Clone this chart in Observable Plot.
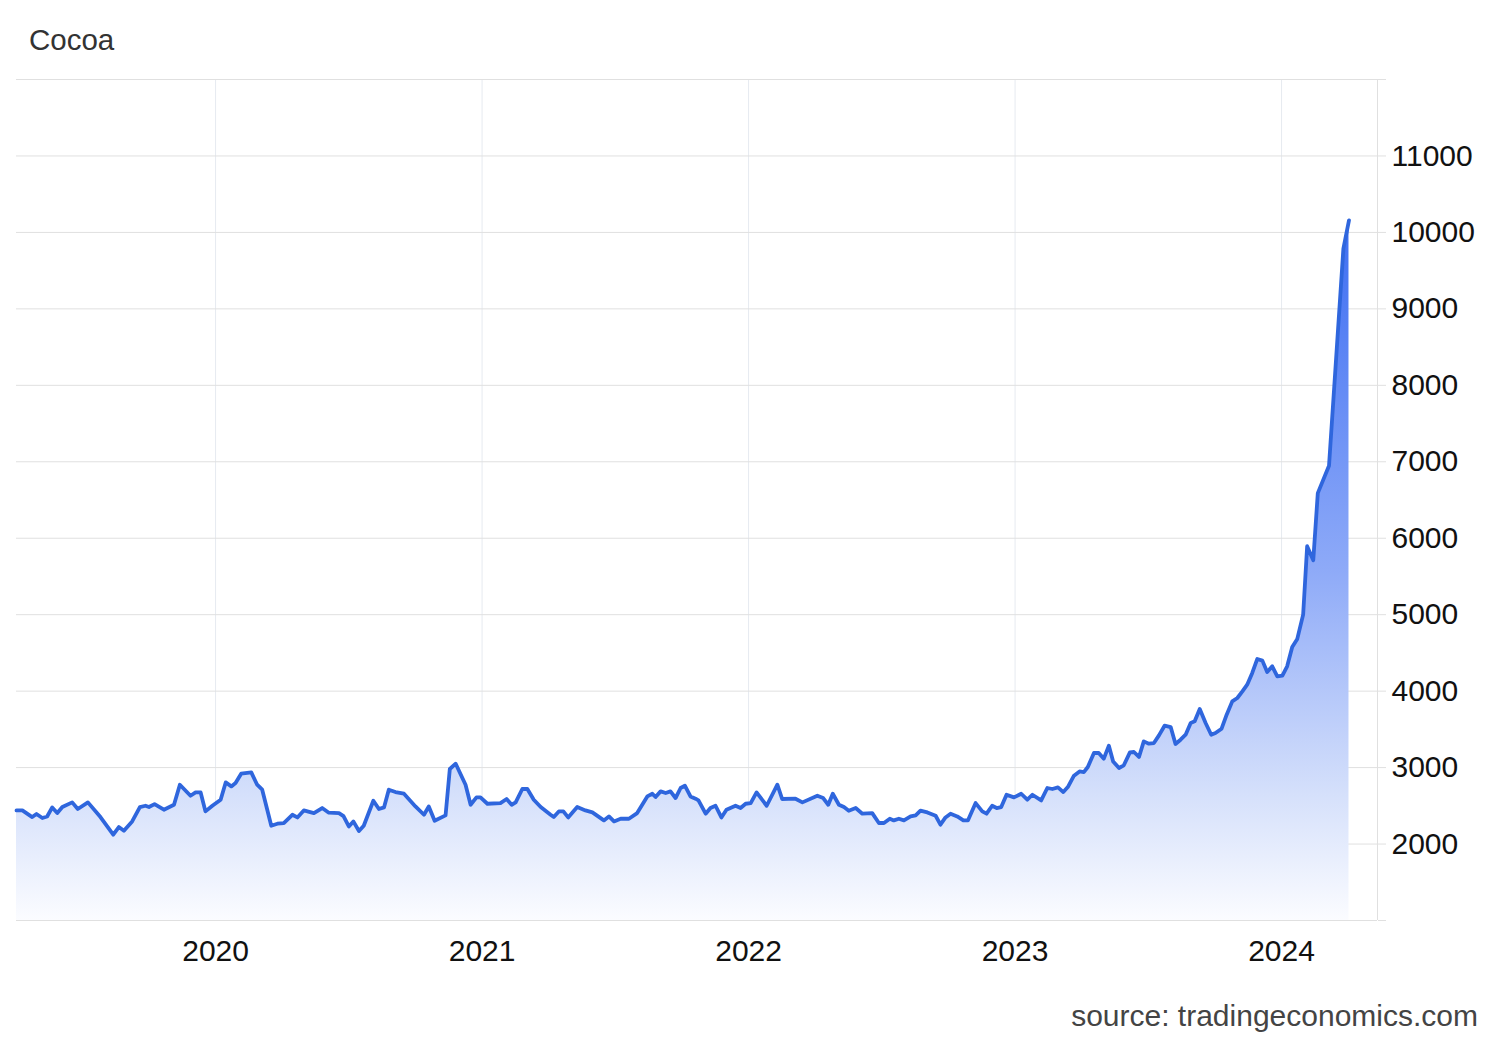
<!DOCTYPE html>
<html>
<head>
<meta charset="utf-8">
<script src="https://cdn.jsdelivr.net/npm/d3@7"></script>
<script src="https://cdn.jsdelivr.net/npm/@observablehq/plot@0.6"></script>
<style>
  html, body { margin: 0; padding: 0; background: #fff; }
  #wrap { position: relative; width: 1500px; height: 1040px; font-family: "Liberation Sans", Arial, sans-serif; }
  #title { position: absolute; left: 29px; top: 25px; font-size: 29.5px; line-height: 29px; color: #333; }
  #source { position: absolute; right: 22px; top: 1001px; font-size: 30px; line-height: 30px; color: #444; }
  #chart { position: absolute; left: 0; top: 0; }
</style>
</head>
<body>
<div id="wrap">
  <div id="chart"></div>
  <div id="title">Cocoa</div>
  <div id="source">source: tradingeconomics.com</div>
</div>
<script>
// Time as decimal year, price in USD/t
const times = [
  2019.253, 2019.275, 2019.312, 2019.328, 2019.350, 2019.368, 2019.387, 2019.406, 2019.425, 2019.462,
  2019.483, 2019.521, 2019.568, 2019.616, 2019.637, 2019.656, 2019.687, 2019.716, 2019.737, 2019.750,
  2019.771, 2019.806, 2019.844, 2019.866, 2019.906, 2019.925, 2019.944, 2019.962, 2019.988, 2020.019,
  2020.038, 2020.059, 2020.075, 2020.096, 2020.134, 2020.156, 2020.175, 2020.209, 2020.232, 2020.256,
  2020.288, 2020.307, 2020.331, 2020.369, 2020.400, 2020.425, 2020.463, 2020.480, 2020.500, 2020.517,
  2020.538, 2020.556, 2020.592, 2020.613, 2020.632, 2020.650, 2020.675, 2020.707, 2020.750, 2020.782,
  2020.800, 2020.822, 2020.863, 2020.879, 2020.901, 2020.938, 2020.957, 2020.979, 2020.994, 2021.020,
  2021.069, 2021.092, 2021.111, 2021.126, 2021.151, 2021.170, 2021.194, 2021.220, 2021.257, 2021.269,
  2021.288, 2021.305, 2021.323, 2021.357, 2021.388, 2021.414, 2021.457, 2021.476, 2021.495, 2021.520,
  2021.551, 2021.582, 2021.620, 2021.639, 2021.651, 2021.670, 2021.689, 2021.707, 2021.726, 2021.745,
  2021.761, 2021.782, 2021.801, 2021.812, 2021.839, 2021.857, 2021.876, 2021.898, 2021.917, 2021.951,
  2021.970, 2021.989, 2022.008, 2022.030, 2022.068, 2022.108, 2022.126, 2022.176, 2022.202, 2022.258,
  2022.280, 2022.299, 2022.316, 2022.339, 2022.358, 2022.376, 2022.402, 2022.427, 2022.464, 2022.489,
  2022.508, 2022.530, 2022.545, 2022.564, 2022.583, 2022.608, 2022.627, 2022.645, 2022.671, 2022.702,
  2022.720, 2022.739, 2022.758, 2022.783, 2022.806, 2022.823, 2022.852, 2022.877, 2022.893, 2022.914,
  2022.931, 2022.948, 2022.968, 2022.996, 2023.023, 2023.046, 2023.065, 2023.098, 2023.121, 2023.140,
  2023.161, 2023.181, 2023.198, 2023.221, 2023.242, 2023.258, 2023.273, 2023.296, 2023.314, 2023.333,
  2023.352, 2023.368, 2023.390, 2023.408, 2023.431, 2023.446, 2023.465, 2023.483, 2023.502, 2023.521,
  2023.540, 2023.561, 2023.584, 2023.602, 2023.621, 2023.640, 2023.659, 2023.674, 2023.693, 2023.715,
  2023.736, 2023.752, 2023.775, 2023.794, 2023.815, 2023.834, 2023.853, 2023.871, 2023.890, 2023.909,
  2023.928, 2023.946, 2023.965, 2023.984, 2024.003, 2024.021, 2024.040, 2024.059, 2024.081, 2024.096,
  2024.119, 2024.136, 2024.178, 2024.232, 2024.253
];
const prices = [
  2440, 2440, 2353, 2393, 2340, 2360, 2479, 2405, 2484, 2545,
  2458, 2545, 2353, 2122, 2222, 2174, 2296, 2484, 2501, 2484,
  2523, 2449, 2514, 2776, 2632, 2675, 2675, 2427, 2501, 2580,
  2806, 2754, 2798, 2920, 2937, 2776, 2711, 2240, 2266, 2275,
  2383, 2348, 2440, 2405, 2471, 2410, 2405, 2365, 2230, 2296,
  2170, 2240, 2567, 2458, 2479, 2711, 2680, 2658, 2492, 2383,
  2492, 2305, 2375, 2982, 3051, 2776, 2514, 2610, 2610, 2527,
  2536, 2589, 2514, 2545, 2720, 2720, 2580, 2484, 2383, 2353,
  2427, 2427, 2348, 2484, 2440, 2414, 2309, 2361, 2296, 2331,
  2331, 2405, 2623, 2658, 2615, 2689, 2667, 2689, 2602, 2733,
  2763, 2623, 2593, 2571, 2397, 2471, 2501, 2348, 2449, 2501,
  2471, 2527, 2536, 2675, 2501, 2776, 2589, 2593, 2545, 2632,
  2602, 2514, 2658, 2514, 2484, 2436, 2471, 2397, 2405, 2275,
  2275, 2331, 2309, 2331, 2309, 2361, 2375, 2436, 2414, 2370,
  2253, 2348, 2397, 2361, 2309, 2309, 2536, 2427, 2397, 2501,
  2471, 2484, 2645, 2610, 2658, 2580, 2645, 2571, 2733, 2720,
  2741, 2680, 2745, 2894, 2950, 2941, 3008, 3191, 3191, 3117,
  3287, 3081, 2995, 3030, 3199, 3204, 3139, 3343, 3313, 3321,
  3421, 3548, 3530, 3308, 3365, 3430, 3584, 3605, 3767, 3584,
  3430, 3452, 3509, 3692, 3866, 3910, 3997, 4085, 4238, 4421,
  4399, 4251, 4325, 4194, 4203, 4325, 4578, 4683, 5001, 5895,
  5712, 6590, 6947, 9787, 10158
];
const xTicks = [2020, 2021, 2022, 2023, 2024];
const yTicks = [1000, 2000, 3000, 4000, 5000, 6000, 7000, 8000, 9000, 10000, 11000, 12000];
const yLabelled = [2000, 3000, 4000, 5000, 6000, 7000, 8000, 9000, 10000, 11000];
const xDomain = [2019.253, 2024.36];
const yDomain = [1000, 12000];

const data = times.map((t, i) => ({t, v: prices[i]}));

function gradientDefs() {
  const ns = "http://www.w3.org/2000/svg";
  const defs = document.createElementNS(ns, "defs");
  const g = document.createElementNS(ns, "linearGradient");
  g.setAttribute("id", "cocoaFill");
  g.setAttribute("x1", "0"); g.setAttribute("y1", "0");
  g.setAttribute("x2", "0"); g.setAttribute("y2", "1");
  [["0", "#3d6ef2"], ["0.5", "#8eaaf8"], ["0.82", "#d5e0fb"], ["1", "#fbfcff"]].forEach(([o, c]) => {
    const s = document.createElementNS(ns, "stop");
    s.setAttribute("offset", o);
    s.setAttribute("stop-color", c);
    g.appendChild(s);
  });
  defs.appendChild(g);
  return defs;
}

const chart = Plot.plot({
  width: 1500,
  height: 1000,
  marginTop: 79,
  marginBottom: 80,
  marginLeft: 16,
  marginRight: 123,
  style: {fontFamily: "'Liberation Sans', Arial, sans-serif", fontSize: "30px", color: "#111", background: "transparent"},
  x: {type: "linear", domain: xDomain},
  y: {type: "linear", domain: yDomain},
  marks: [
    gradientDefs,
    Plot.gridX(xTicks, {stroke: "#e6eaf0", strokeOpacity: 1}),
    Plot.gridY(yTicks, {stroke: "#e0e0e0", strokeOpacity: 1}),
    Plot.ruleX([xDomain[1]], {stroke: "#e0e0e0"}),
    Plot.areaY(data, {x: "t", y1: yDomain[0], y2: "v", fill: "url(#cocoaFill)", curve: "linear"}),
    Plot.lineY(data, {x: "t", y: "v", stroke: "#2f66dd", strokeWidth: 3.8, strokeLinejoin: "round", curve: "linear"}),
    Plot.axisX(xTicks, {anchor: "bottom", tickSize: 0, tickPadding: 19, tickFormat: d => String(d), fill: "#111", fontSize: 30, label: null}),
    Plot.axisY(yTicks, {anchor: "right", tickSize: 8, tickPadding: 6, stroke: "#e0e0e0", fill: "#111", fontSize: 30,
      tickFormat: d => yLabelled.includes(d) ? String(d) : "", label: null})
  ]
});
document.getElementById("chart").appendChild(chart);
</script>
</body>
</html>
